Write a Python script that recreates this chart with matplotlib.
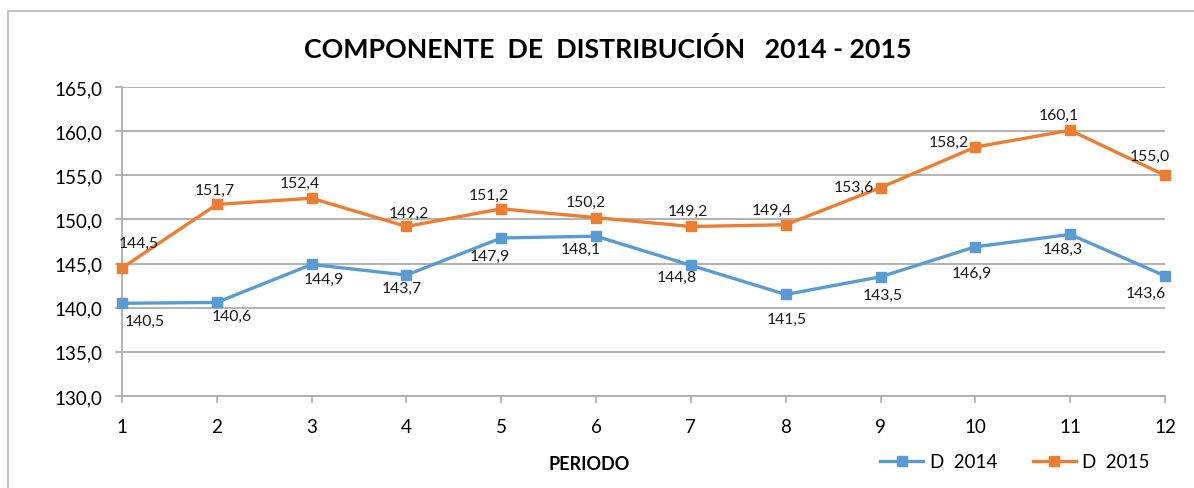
import matplotlib
matplotlib.use("Agg")
import matplotlib.pyplot as plt
from matplotlib.patches import Rectangle

plt.rcParams['font.family'] = ['Lato', 'DejaVu Sans']

periods = [1, 2, 3, 4, 5, 6, 7, 8, 9, 10, 11, 12]
d2014 = [140.5, 140.6, 144.9, 143.7, 147.9, 148.1, 144.8, 141.5, 143.5, 146.9, 148.3, 143.6]
d2015 = [144.5, 151.7, 152.4, 149.2, 151.2, 150.2, 149.2, 149.4, 153.6, 158.2, 160.1, 155.0]
yticks = [130, 135, 140, 145, 150, 155, 160, 165]
title = "COMPONENTE  DE  DISTRIBUCIÓN   2014 - 2015"
xlabel = "PERIODO"
names = ["D  2014", "D  2015"]

# label offsets in pixels (dx, dy with dy positive = down)
off14 = [(23, 18), (15, 13), (12, 14), (-5, 13), (-11, 18), (-15, 13), (-14, 12),
         (1, 24), (2, 18), (-4, 26), (-7, 14), (-19, 17)]
off15 = [(17, -25), (-2, -15), (-12, -15), (2, -14), (-13, -14), (-10, -16), (-3, -16),
         (-14, -15), (-27, -1), (-27, -5), (-11, -15), (-15, -19)]

C14 = '#5B9BD5'
C15 = '#ED7D31'
GRID = '#ADADAD'

W, H = 1194, 489
fig = plt.figure(figsize=(W / 100, H / 100), dpi=100)
fig.patch.set_facecolor('white')

# outer chart border (extends beyond image right/bottom)
fig.add_artist(Rectangle((8 / W, -0.1), 1.2, 1 - 12 / H + 0.1, transform=fig.transFigure,
                         fill=False, edgecolor='#B5B5B5', lw=1.2))

ax = fig.add_axes([122 / W, 1 - 397 / H, (1165 - 122) / W, (397 - 88) / H])
ax.set_xlim(1, 12)
ax.set_ylim(130, 165)
ax.set_yticks(yticks)
ax.set_yticklabels([f"{v:.1f}".replace('.', ',') for v in yticks])
ax.set_xticks(periods)
ax.set_xticklabels([str(p) for p in periods])
ax.grid(axis='y', color=GRID, lw=1.3)
ax.set_axisbelow(True)
for s in ['top', 'right']:
    ax.spines[s].set_visible(False)
for s in ['left', 'bottom']:
    ax.spines[s].set_color(GRID)
    ax.spines[s].set_linewidth(1.3)
ax.tick_params(axis='y', length=5, width=1.2, color=GRID, pad=9, labelsize=13.5)
ax.tick_params(axis='x', length=5, width=1.2, color=GRID, pad=11, labelsize=13.5)

l1, = ax.plot(periods, d2014, color=C14, lw=2.4, marker='s', ms=7.5, clip_on=False, zorder=3)
l2, = ax.plot(periods, d2015, color=C15, lw=2.4, marker='s', ms=7.5, clip_on=False, zorder=3)

def fmt(v):
    return f"{v:.1f}".replace('.', ',')

for x, v, (dx, dy) in zip(periods, d2014, off14):
    ax.annotate(fmt(v), (x, v), xytext=(dx, -dy), textcoords='offset pixels',
                ha='center', va='center', fontsize=11.3, color='#1a1a1a')
for x, v, (dx, dy) in zip(periods, d2015, off15):
    ax.annotate(fmt(v), (x, v), xytext=(dx, -dy), textcoords='offset pixels',
                ha='center', va='center', fontsize=11.3, color='#1a1a1a')

fig.text(608 / W, 1 - 50 / H, title, ha='center', va='center', fontsize=19.3,
         fontweight='bold', color='black')
fig.text(589 / W, 1 - 465 / H, xlabel, ha='center', va='center', fontsize=13,
         fontweight='bold', color='black')

leg = fig.legend([l1, l2], names, loc='center', bbox_to_anchor=(1015 / W, 1 - 463 / H),
                 ncol=2, frameon=False, fontsize=13.5, handlelength=2.3,
                 columnspacing=1.9, handletextpad=0.35, markerscale=1.0)

fig.savefig('out.png', dpi=100, facecolor='white')
